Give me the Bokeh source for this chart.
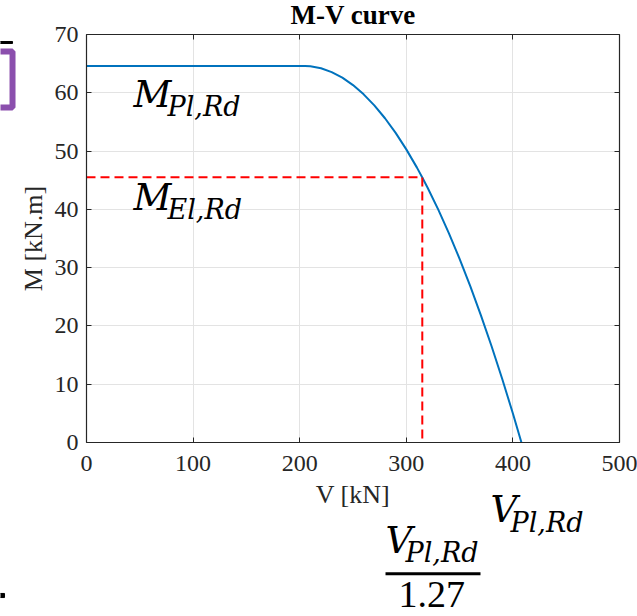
from bokeh.plotting import figure
from bokeh.models import LinearAxis, Label, Arrow, Range1d, FixedTicker, BoxAnnotation, Grid
from bokeh.embed import file_html
from bokeh.resources import INLINE

# M-V interaction curve
V_CURVE = [0, 205, 210, 220, 230, 240, 250, 260, 270, 280, 290, 300, 310, 315,
           320, 330, 340, 350, 360, 370, 380, 390, 400, 408]
M_CURVE = [64.6, 64.6, 64.54, 64.2, 63.55, 62.59, 61.32, 59.73, 57.84, 55.63, 53.12,
           50.29, 47.16, 45.47, 43.71, 39.95, 35.89, 31.51, 26.82, 21.82, 16.52,
           10.9, 4.97, 0.0]

# elastic limit guide (red dashed)
V_EL = [0, 315, 315]
M_EL = [45.5, 45.5, 0]

X_TICKS = [0, 100, 200, 300, 400, 500]
Y_TICKS = [0, 10, 20, 30, 40, 50, 60, 70]

AX = "#262626"
SERIF = "Liberation Serif"
MATH = "DejaVu Serif"

# frame spans the whole canvas below the title; axes are pinned to the data box
p = figure(width=637, height=616,
           x_range=Range1d(-80.675, 516.886), y_range=Range1d(-29.853, 71.372),
           output_backend="svg", toolbar_location=None,
           min_border_left=0, min_border_right=0, min_border_top=26,
           min_border_bottom=0)
p.background_fill_color = "white"
p.border_fill_color = "white"
p.outline_line_color = None

bottom = p.below[0]
left = p.left[0]

p.title.text = "M-V curve"
p.title.text_font = SERIF
p.title.text_font_style = "bold"
p.title.text_font_size = "27px"
p.title.text_color = "black"
p.title.align = "left"
p.title.offset = 290
p.title.standoff = -6

top = LinearAxis()
right = LinearAxis()
p.add_layout(top, "above")
p.add_layout(right, "right")

bottom.fixed_location = 0
top.fixed_location = 70
left.fixed_location = 0
right.fixed_location = 500

for ax, ticks, bnds in [(bottom, X_TICKS, (0, 500)), (left, Y_TICKS, (0, 70)),
                        (top, X_TICKS, (0, 500)), (right, Y_TICKS, (0, 70))]:
    ax.ticker = FixedTicker(ticks=ticks)
    ax.bounds = bnds
    ax.axis_line_color = AX
    ax.axis_line_width = 1.2
    ax.major_tick_in = 5
    ax.major_tick_out = 0
    ax.major_tick_line_color = AX
    ax.minor_tick_line_color = None
    ax.major_label_text_font = SERIF
    ax.major_label_text_font_size = "24px"
    ax.major_label_text_color = AX

for ax in (top, right):
    ax.major_label_text_font_size = "1px"
    ax.major_label_text_color = None
    ax.major_label_standoff = 0

bottom.axis_label = "V [kN]"
left.axis_label = "M [kN.m]"
for ax in (bottom, left):
    ax.axis_label_text_font = SERIF
    ax.axis_label_text_font_style = "normal"
    ax.axis_label_text_font_size = "26px"
    ax.axis_label_text_color = AX
bottom.major_label_standoff = 14
bottom.axis_label_standoff = 5
left.major_label_standoff = 8
left.axis_label_standoff = 4

p.xgrid.ticker = FixedTicker(ticks=X_TICKS)
p.ygrid.ticker = FixedTicker(ticks=Y_TICKS)
if "cross_bounds" in Grid.properties():
    p.xgrid.cross_bounds = (0, 70)
    p.ygrid.cross_bounds = (0, 500)
    p.grid.grid_line_color = "#e3e3e3"
    p.grid.grid_line_width = 1
else:
    p.grid.visible = False
    p.multi_line([[t, t] for t in X_TICKS[1:-1]], [[0, 70]] * (len(X_TICKS) - 2),
                 line_color="#e3e3e3", line_width=1)
    p.multi_line([[0, 500]] * (len(Y_TICKS) - 2), [[t, t] for t in Y_TICKS[1:-1]],
                 line_color="#e3e3e3", line_width=1)

p.line(V_CURVE, M_CURVE, line_color="#0072BD", line_width=2)
p.line(V_EL, M_EL, line_color="#FF0000", line_width=2, line_dash="9 5")


def lab(x, y, text, size, italic=True, font=MATH):
    p.add_layout(Label(x=x, y=y, text=text, text_font=font,
                       text_font_style="italic" if italic else "normal",
                       text_font_size=size, text_color="black",
                       text_baseline="middle", text_align="left"))


# M_Pl,Rd
lab(44.1, 59.72, "M", "37px")
lab(76.0, 57.71, "Pl,Rd", "27px")
# M_El,Rd
lab(44.1, 42.0, "M", "37px")
lab(76.0, 39.98, "El,Rd", "27px")
# V_Pl,Rd
lab(379.0, -11.48, "V", "37px")
lab(397.8, -13.79, "Pl,Rd", "27px")
# V_Pl,Rd / 1.27
lab(280.5, -16.85, "V", "37px")
lab(299.25, -18.93, "Pl,Rd", "27px")
p.add_layout(Arrow(end=None, x_start=280.5, y_start=-22.53, x_end=369.6, y_end=-22.53,
                   line_color="black", line_width=3))
lab(292.7, -26.11, "1.27", "38px", italic=False, font=SERIF)

# cropped slide fragments at the left edge
p.add_layout(BoxAnnotation(left=-120, right=-69.4, top=67.08, bottom=57.47,
                           fill_alpha=0, line_color="#8B4FAD", line_alpha=1,
                           line_width=6))
p.add_layout(BoxAnnotation(left=-120, right=-69.4, top=68.8, bottom=68.46,
                           fill_color="black", fill_alpha=1, line_color="black",
                           line_alpha=1, line_width=1))
p.add_layout(BoxAnnotation(left=-120, right=-76.9, top=-25.9, bottom=-26.6,
                           fill_color="black", fill_alpha=1, line_color="black",
                           line_alpha=1, line_width=1))

open("out.html", "w").write(file_html(p, INLINE))
